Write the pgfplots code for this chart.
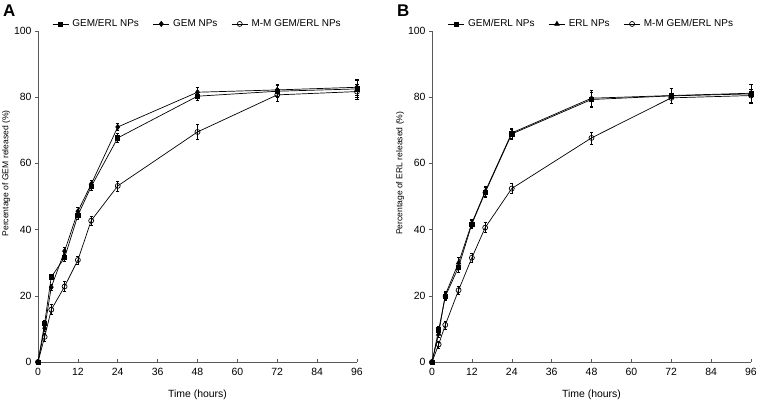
\documentclass[border=0pt]{standalone}
\usepackage{pgfplots}
\pgfplotsset{compat=1.18}
\usepackage{fontspec}
\setmainfont{Liberation Sans}
\setsansfont{Liberation Sans}

\pgfplotstableread{
t   a   ae   b    be   c    ce
0   0   0    0    0    0    0
2   11.7 0.9 10.2 1.0  7.6  1.2
4   25.7 0.8 22.6 1.0  15.8 1.5
8   31.5 1.2 33.5 1.3  22.8 1.5
12  44.3 1.2 45.5 1.3  30.8 1.2
16  53.0 1.2 53.7 1.2  42.7 1.3
24  67.7 1.3 71.0 1.0  53.2 1.5
48  80.3 1.3 81.5 1.4  69.5 2.2
72  81.8 1.8 82.2 1.8  80.7 2.0
96  82.5 2.5 83.0 2.5  81.7 2.2
}\dataA

\pgfplotstableread{
t   a   ae   b    be   c    ce
0   0   0    0    0    0    0
2   9.7 1.0  8.5  1.0  5.3  1.0
4   19.8 1.2 20.3 1.2  11.2 1.2
8   28.7 1.5 30.0 1.5  21.7 1.2
12  41.7 1.2 42.0 1.2  31.5 1.5
16  51.2 1.5 51.5 1.5  40.6 1.5
24  68.9 1.5 69.2 1.5  52.4 1.5
48  79.3 2.3 79.7 2.3  67.7 1.8
72  80.4 2.2 80.5 2.2  79.8 1.5
96  81.0 2.8 81.2 2.8  80.5 2.0
}\dataB

\pgfplotsset{
  relplot/.style={
    scale only axis, width=319bp, height=331bp,
    xmin=0, xmax=96, ymin=0, ymax=100, clip=false,
    axis lines=left, axis line style={-, black!65, line width=0.5bp},
    xtick={0,12,...,96}, ytick={0,20,...,100},
    tick align=outside, major tick length=3bp,
    xtick style={yshift=3bp, black!65, line width=0.5bp},
    ytick style={black!65, line width=0.5bp},
    font=\fontsize{10}{12}\selectfont,
    tick label style={font=\fontsize{10.5}{12}\selectfont},
    /pgf/number format/assume math mode=true,
    xlabel={Time (hours)},
    xlabel style={font=\fontsize{10.5}{12}\selectfont, yshift=-7bp},
    ylabel style={font=\fontsize{8.6}{10}\selectfont, at={(rel axis cs:-0.1,0.57)}, anchor=center, rotate=0},
    legend columns=3,
    legend style={draw=none, fill=none, at={(0.5,1.0)}, anchor=south, yshift=-1.5bp,
      font=\fontsize{10}{12}\selectfont, column sep=1.5bp,
      /tikz/every even column/.append style={column sep=12bp}},
    legend image code/.code={
      \draw[mark repeat=2,mark phase=2,#1] plot coordinates {(0bp,0bp) (8bp,0bp) (16bp,0bp)};},
    every axis plot/.append style={black, line width=0.7bp,
      error bars/y dir=both, error bars/y explicit,
      error bars/error bar style={line width=0.5bp},
      error bars/error mark options={rotate=90, mark size=1.6bp, line width=0.5bp}},
  }
}

\begin{document}
\begin{tikzpicture}
\path[use as bounding box] (-38bp,-42bp) rectangle (726bp,362bp);
\begin{axis}[relplot, ylabel={Percentage of GEM released (\%)}]
\addplot[mark=square*, mark size=2.1bp, mark options={solid, fill=black}] table[x=t, y=a, y error=ae] {\dataA};
\addlegendentry{GEM/ERL NPs}
\addplot[mark=diamond*, mark size=2.6bp, mark options={solid, fill=black}] table[x=t, y=b, y error=be] {\dataA};
\addlegendentry{GEM NPs}
\addplot[mark=o, mark size=2.5bp, mark options={solid, fill=white}] table[x=t, y=c, y error=ce] {\dataA};
\addlegendentry{M-M GEM/ERL NPs}
\end{axis}
\node[anchor=north west, inner sep=0pt, font=\fontsize{17}{19}\selectfont\bfseries] at (-35bp,357bp) {A};

\begin{axis}[relplot, xshift=394bp, ylabel={Percentage of ERL released (\%)}]
\addplot[mark=square*, mark size=2.1bp, mark options={solid, fill=black}] table[x=t, y=a, y error=ae] {\dataB};
\addlegendentry{GEM/ERL NPs}
\addplot[mark=triangle*, mark size=2.6bp, mark options={solid, fill=black}] table[x=t, y=b, y error=be] {\dataB};
\addlegendentry{ERL NPs}
\addplot[mark=o, mark size=2.5bp, mark options={solid, fill=white}] table[x=t, y=c, y error=ce] {\dataB};
\addlegendentry{M-M GEM/ERL NPs}
\end{axis}
\node[anchor=north west, inner sep=0pt, font=\fontsize{17}{19}\selectfont\bfseries] at (359bp,357bp) {B};
\end{tikzpicture}
\end{document}
